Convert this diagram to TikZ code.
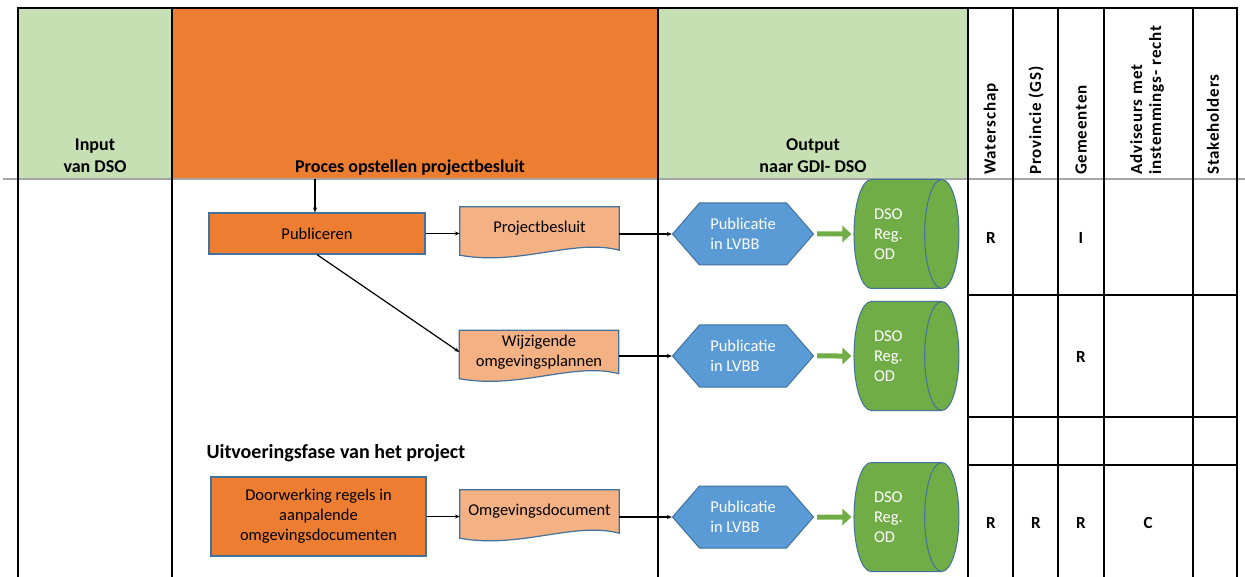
\documentclass[tikz,border=0pt]{standalone}
\usepackage{fontspec}
\setmainfont{Carlito}
\newfontfamily\rolefont[LetterSpace=5]{Carlito Bold}
\usetikzlibrary{shapes.geometric,shapes.symbols,arrows.meta,calc,backgrounds}

\definecolor{hdgreen}{HTML}{C6E0B4}
\definecolor{hdorange}{HTML}{ED7D31}
\definecolor{docorange}{HTML}{F4B183}
\definecolor{pubblue}{HTML}{5B9BD5}
\definecolor{dbgreen}{HTML}{70AD47}
\definecolor{edgeblue}{HTML}{41719C}

\newcommand{\boxfont}{\fontsize{16.5}{20}\selectfont}
\newcommand{\hdfont}{\bfseries\fontsize{18}{22}\selectfont}

\tikzset{
  procbox/.style={draw=edgeblue, fill=hdorange, line width=1.2pt, align=center, font=\boxfont},
  doctext/.style={minimum width=159pt, minimum height=43pt, inner sep=1pt, align=center, font=\boxfont},
  docshape/.style={draw=edgeblue, fill=docorange, line width=1.2pt},
  pubhex/.style={signal, signal to=west and east, signal pointer angle=98, draw=edgeblue, fill=pubblue,
    line width=1pt, minimum width=141pt, minimum height=62pt, inner sep=2pt, text=white, align=left, font=\boxfont},
  dbcyl/.style={cylinder, shape aspect=0.65, minimum width=109pt, minimum height=105pt, inner sep=1pt,
    cylinder uses custom fill, cylinder body fill=dbgreen, cylinder end fill=dbgreen, draw=edgeblue,
    line width=1pt, text width=44pt, text=white, align=left, font=\boxfont},
  flow/.style={line width=1.2pt, -{Stealth[length=5pt,width=4pt]}},
  greenarrow/.style={dbgreen, line width=5pt, -{Triangle[length=9pt,width=16pt]}, shorten <=3pt, shorten >=2pt},
  colline/.style={line width=2.5pt},
  racline/.style={line width=1.6pt},
  hdtext/.style={font=\hdfont, align=center, anchor=south, inner sep=0pt, text depth=0pt},
  roletext/.style={font=\rolefont\fontsize{17}{19}\selectfont, rotate=90, anchor=west, align=left, inner sep=0pt},
  racitext/.style={font=\bfseries\fontsize{17}{20}\selectfont}
}

\begin{document}
\begin{tikzpicture}[x=1pt,y=-1pt]
  \useasboundingbox (0,0) rectangle (1245,577);

  % header
  \fill[hdgreen] (18,8) rectangle (172,178);
  \fill[hdorange] (172,8) rectangle (658,178);
  \fill[hdgreen] (658,8) rectangle (968,178);
  \draw[gray!70, line width=1.5pt] (3,179) -- (1245,179);

  \node[hdtext] (hin) at (95,173) {Input\\van DSO};
  \node[hdtext] (hproc) at (410,173) {Proces opstellen projectbesluit};
  \node[hdtext] (hout) at (813,173) {Output\\naar GDI- DSO};

  \foreach \x/\t [count=\i] in {991/Waterschap, 1036/Provincie (GS), 1081/Gemeenten, 1213/Stakeholders}
    \node[roletext] (role\i) at (\x,175) {\t};
  \node[roletext] (role5) at (1147,175) {Adviseurs met\\instemmings- recht};

  % table lines
  \draw[colline] (18,577) -- (18,8) -- (1237,8) -- (1237,577);
  \foreach \x in {172,658,968}
    \draw[colline] (\x,8) -- (\x,577);
  \foreach \x in {1013,1058,1104,1193}
    \draw[racline] (\x,8) -- (\x,577);
  \foreach \y in {295,417,465}
    \draw[racline] (968,\y) -- (1237,\y);

  % RACI
  \foreach \x/\y/\t [count=\i] in {991/238/R, 1081/238/I, 1081/357/R, 991/523/R, 1036/523/R, 1081/523/R, 1148/523/C}
    \node[racitext] (raci\i) at (\x,\y) {\t};

  % proces
  \node[procbox, minimum width=216pt, minimum height=41pt] (publ) at (317,233.5) {Publiceren};
  \node[doctext] (pbes) at (539.5,228.5) {Projectbesluit};
  \node[doctext] (wijz) at (539,352) {Wijzigende\\omgevingsplannen};
  \node[anchor=west, font=\bfseries\fontsize{20}{24}\selectfont] (fase) at (203,453) {Uitvoeringsfase van het project};
  \node[procbox, minimum width=215pt, minimum height=79pt] (doorw) at (318.5,516.5) {Doorwerking regels in\\aanpalende\\omgevingsdocumenten};
  \node[doctext] (omg) at (539.5,511.5) {Omgevingsdocument};
  \begin{scope}[on background layer]
    \foreach \n in {pbes,wijz,omg}
      \draw[docshape] (\n.north west) -- (\n.north east) -- (\n.south east)
        .. controls ($(\n.south east)+(-45,-12)$) and ($(\n.south west)+(60,16)$) .. ($(\n.south west)+(0,5)$) -- cycle;
  \end{scope}

  \coordinate (procin) at (315,179);
  \draw[flow] (procin) -- (procin |- publ.north);
  \draw[flow] (publ.east) -- (publ.east -| pbes.west);
  \draw[flow] (publ.south) -- (wijz.west);
  \draw[flow] (doorw.east) -- (doorw.east -| omg.west);

  % output
  \foreach \y/\d [count=\i] in {234/pbes, 356/wijz, 517/omg}{
    \node[pubhex] (pub\i) at (743,\y) {Publicatie\\in LVBB};
    \node[dbcyl] (db\i) at (896,\y) {DSO\\Reg.\\OD};
    \draw[flow] (pub\i.west -| \d.east) -- (pub\i.west);
    \draw[greenarrow] (pub\i) -- (db\i);
  }
\end{tikzpicture}
\end{document}
